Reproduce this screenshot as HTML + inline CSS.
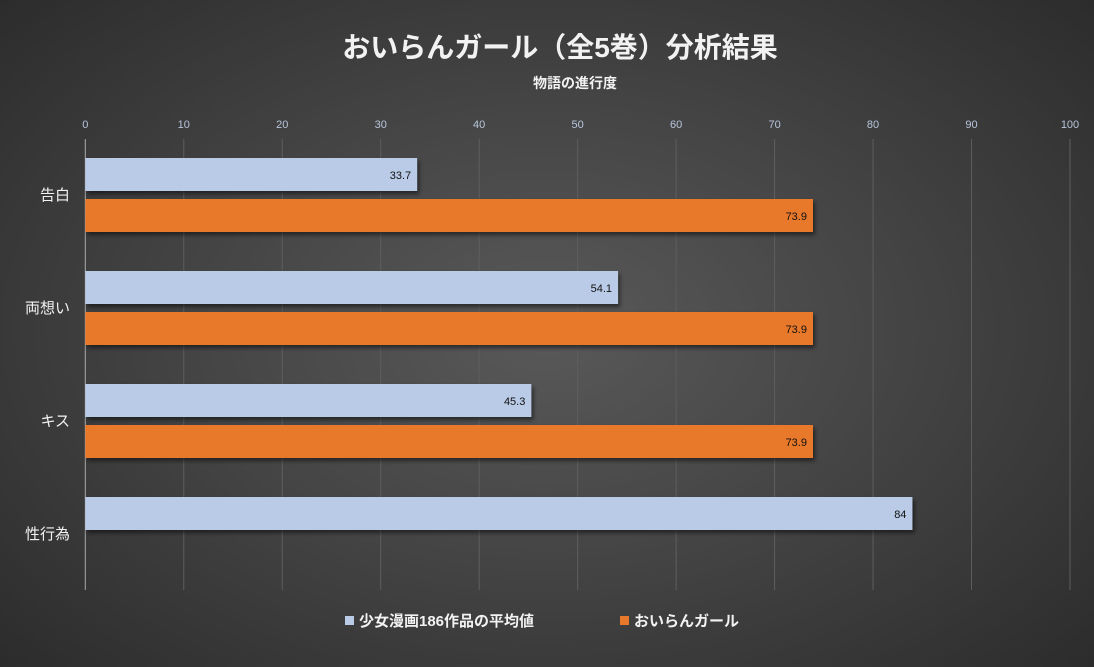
<!DOCTYPE html>
<html><head><meta charset="utf-8"><style>
html,body{margin:0;padding:0}
body{width:1094px;height:662px;overflow:hidden;background:radial-gradient(ellipse 70% 75% at 50% 50%,#595959 0%,#454545 45%,#2b2b2b 100%);font-family:"Liberation Sans","Noto Sans CJK JP",sans-serif}
svg text{font-family:"Liberation Sans","Noto Sans CJK JP",sans-serif}
</style></head><body>
<svg id="chart" width="1094" height="662">
<defs><filter id="sh" x="-5%" y="-20%" width="110%" height="160%"><feDropShadow dx="2" dy="3" stdDeviation="2" flood-color="#000" flood-opacity="0.5"/></filter></defs>
<text x="560" y="57" text-anchor="middle" font-size="28" font-weight="bold" fill="#f2f2f2">おいらんガール（全5巻）分析結果</text>
<text x="575" y="88" text-anchor="middle" font-size="14" font-weight="bold" fill="#f2f2f2">物語の進行度</text>
<g id="grid"></g><g id="bars"></g><g id="labels"></g>
<g>
<rect x="345" y="616" width="9" height="9" fill="#b9cbe7"/>
<text x="359" y="626" font-size="15" font-weight="bold" fill="#f2f2f2">少女漫画186作品の平均値</text>
<rect x="620" y="616" width="9" height="9" fill="#e8782c"/>
<text x="634" y="626" font-size="15" font-weight="bold" fill="#f2f2f2">おいらんガール</text>
</g>
</svg>
<script>
const categories=["告白","両想い","キス","性行為"];
const avgValues=[33.7,54.1,45.3,84];
const oiranValues=[73.9,73.9,73.9,null];
const ticks=[0,10,20,30,40,50,60,70,80,90,100];
const NS="http://www.w3.org/2000/svg";
const x0=85.3,x1=1070,yTop=139,yBot=590;
const xs=v=>x0+(x1-x0)*v/100;
const catTop=i=>158+i*113;
function mk(t,a,p){const e=document.createElementNS(NS,t);for(const k in a)e.setAttribute(k,a[k]);p.appendChild(e);return e;}
const g=document.getElementById('grid'),b=document.getElementById('bars'),l=document.getElementById('labels');
ticks.forEach(t=>{
 const ln=mk('line',{x1:xs(t),x2:xs(t),y1:yTop,y2:yBot,stroke:t===0?'#aaaaaa':'#5e5e5e','stroke-width':1},g);
 
 
 const tx=mk('text',{x:xs(t),y:128,'text-anchor':'middle','font-size':11,fill:'#b8c6dc'},g);
 tx.textContent=t;
 
 
});
categories.forEach((c,i)=>{
 const top=catTop(i);
 const r1=mk('rect',{x:x0,y:top,width:xs(avgValues[i])-x0,height:33,fill:'#b9cbe7',filter:'url(#sh)'},b);
 
 
 const t1=mk('text',{x:xs(avgValues[i])-6,y:top+21,'text-anchor':'end','font-size':11,fill:'#111'},l);
 t1.textContent=avgValues[i];
 
 
 if(oiranValues[i]!=null){
  const r2=mk('rect',{x:x0,y:top+41,width:xs(oiranValues[i])-x0,height:33,fill:'#e8782c',filter:'url(#sh)'},b);
  
  
  const t2=mk('text',{x:xs(oiranValues[i])-6,y:top+62,'text-anchor':'end','font-size':11,fill:'#111'},l);
  t2.textContent=oiranValues[i];
  
  
 }
 const cl=mk('text',{x:70,y:top+42,'text-anchor':'end','font-size':15,fill:'#f2f2f2'},l);
 cl.textContent=c;
 
 
});
</script>
</body></html>
